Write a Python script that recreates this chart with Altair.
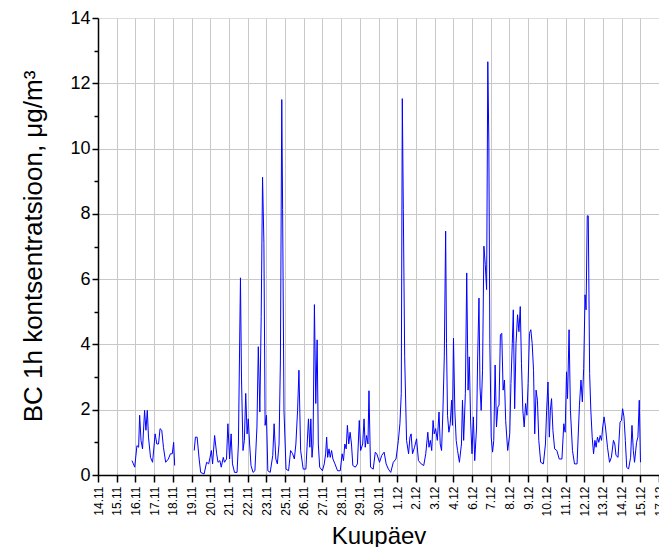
import altair as alt
import pandas as pd

tick_labels = ["14.11", "15.11", "16.11", "17.11", "18.11", "19.11", "20.11", "21.11",
               "22.11", "23.11", "25.11", "26.11", "27.11", "28.11", "29.11", "30.11",
               "1.12", "2.12", "3.12", "4.12", "6.12", "7.12", "8.12", "9.12", "10.12",
               "11.12", "12.12", "13.12", "14.12", "15.12", "17.12"]
tick_step = 1.1  # days between axis ticks

# segment 1: 15.11 - 18.11 (days since 14.11 00:00)
days_a = [2.00, 2.16, 2.29, 2.39, 2.45, 2.53, 2.62, 2.74, 2.82, 2.90, 2.97, 3.09, 3.21,
          3.36, 3.46, 3.56, 3.65, 3.75, 3.85, 3.98, 4.14, 4.26, 4.37, 4.45, 4.51]
bc_a = [0.44, 0.24, 0.90, 0.85, 1.83, 1.06, 0.80, 1.98, 1.37, 1.98, 1.16, 0.54, 0.39,
        1.26, 0.95, 0.95, 1.42, 1.37, 0.85, 0.39, 0.49, 0.65, 0.65, 1.00, 0.29]

# segment 2: 19.11 - 15.12
days_b = [5.66, 5.73, 5.83, 5.95, 6.04, 6.24, 6.39, 6.51, 6.59, 6.67, 6.74, 6.86, 6.98,
          7.06, 7.17, 7.25, 7.37, 7.44, 7.56, 7.64, 7.74, 7.83, 7.91, 8.03, 8.18, 8.26,
          8.38, 8.44, 8.53, 8.61, 8.69, 8.77, 8.84, 8.92, 9.00, 9.12, 9.23, 9.35, 9.43,
          9.52, 9.60, 9.68, 9.76, 9.83, 9.91, 9.99, 10.13, 10.28, 10.36, 10.46, 10.55,
          10.65, 10.73, 10.81, 10.86, 10.94, 11.06, 11.21, 11.33, 11.45, 11.55, 11.64,
          11.74, 11.82, 11.92, 12.07, 12.23, 12.38, 12.46, 12.52, 12.59, 12.65, 12.73,
          12.81, 12.89, 12.96, 13.04, 13.20, 13.31, 13.39, 13.45, 13.51, 13.59, 13.66,
          13.74, 13.82, 13.94, 14.09, 14.25, 14.36, 14.44, 14.52, 14.60, 14.67, 14.75,
          14.83, 14.91, 14.99, 15.14, 15.26, 15.37, 15.45, 15.57, 15.65, 15.72, 15.80,
          15.88, 15.94, 16.03, 16.19, 16.31,
          16.40, 16.56, 16.69, 16.83, 16.95, 17.08, 17.22, 17.37, 17.53, 17.67, 17.76,
          17.84, 17.90, 17.96, 18.04, 18.15, 18.27, 18.35, 18.42, 18.50, 18.62, 18.74,
          18.85, 19.01, 19.16, 19.28, 19.40, 19.47, 19.55, 19.63, 19.71, 19.78, 19.86,
          19.96, 20.06, 20.13, 20.21, 20.29, 20.37, 20.45, 20.50, 20.56, 20.64, 20.72,
          20.80, 20.85, 20.91, 20.99, 21.07, 21.15, 21.26, 21.38, 21.44, 21.51, 21.61,
          21.69, 21.77, 21.84, 21.92, 22.00, 22.08, 22.16, 22.27, 22.33, 22.41, 22.47,
          22.54, 22.62, 22.70, 22.78, 22.86, 22.93, 22.99, 23.05, 23.13, 23.21, 23.28,
          23.36, 23.44, 23.52, 23.59, 23.67, 23.75, 23.83, 23.91, 23.98, 24.10, 24.22,
          24.29, 24.37, 24.43, 24.51, 24.59, 24.68, 24.76, 24.84, 24.91, 24.99, 25.07,
          25.15, 25.23, 25.30, 25.38, 25.46, 25.54, 25.62, 25.69, 25.77, 25.85, 25.93,
          26.04, 26.20, 26.32, 26.39, 26.47, 26.55, 26.61, 26.68, 26.76, 26.86, 26.99,
          27.13, 27.29, 27.40, 27.48, 27.56, 27.62, 27.71, 27.79, 27.91, 28.03, 28.18,
          28.32, 28.41, 28.49, 28.57, 28.65, 28.71, 28.78, 28.84, 28.92, 28.99, 29.07,
          29.15, 29.23, 29.30, 29.38, 29.46, 29.54, 29.62, 29.69, 29.77, 29.85, 29.97,
          30.09, 30.20, 30.32, 30.40, 30.47, 30.59, 30.71, 30.79, 30.86, 30.94, 31.02,
          31.10, 31.21, 31.33, 31.41, 31.49, 31.56, 31.68, 31.76, 31.84, 31.91]
bc_b = [0.75, 1.16, 1.16, 0.49, 0.08, 0.03, 0.39, 0.34, 0.54, 0.75, 0.34, 1.21, 0.65,
        0.39, 0.44, 0.24, 0.54, 0.39, 0.49, 1.57, 0.49, 1.26, 0.34, 0.08, 0.08, 0.95,
        6.04, 3.00, 0.75, 1.06, 2.50, 1.26, 1.72, 0.95, 0.29, 0.08, 0.13, 1.47, 3.93,
        1.93, 4.86, 9.12, 7.10, 1.52, 1.83, 0.13, 0.08, 0.60, 1.57, 0.49, 0.34,
        0.95, 3.52, 11.50, 8.14, 1.98, 0.18, 0.13, 0.75, 0.65, 0.49, 0.95,
        1.98, 3.21, 0.75, 0.18, 0.18, 1.72, 0.85, 1.72, 0.54, 0.95, 5.22,
        2.19, 4.14, 0.95, 0.24, 0.13, 0.34, 0.65, 1.16, 0.54, 0.80, 0.54,
        0.75, 0.49, 0.34, 0.13, 0.13, 0.65, 0.44, 0.95, 0.80, 1.52, 0.95,
        1.31, 0.95, 0.29, 0.24, 0.34, 1.67, 0.75, 0.95, 1.72, 0.85, 1.21,
        0.95, 2.58, 0.24, 0.18, 0.70,
        0.65, 0.39, 0.60, 0.70, 0.34, 0.18, 0.08, 0.39, 0.49, 1.06, 1.57,
        2.50, 11.53, 8.14, 3.62, 1.06, 0.65, 1.16, 1.26, 0.65, 0.85, 1.11,
        0.44, 0.34, 0.29, 0.65, 1.31, 0.85, 1.06, 0.75, 1.67, 1.26, 1.42,
        1.06, 1.93, 0.95, 0.75, 1.98, 3.62, 7.47, 4.03, 1.83, 1.31, 1.57,
        2.29, 1.52, 4.19, 1.98, 1.06, 0.75, 0.39, 0.95, 2.29, 1.06, 2.50,
        6.19, 2.60, 3.62, 1.62, 0.65, 1.78, 0.44, 1.47, 3.52, 5.42, 2.70,
        1.98, 3.21, 7.01, 6.45, 5.68, 12.66, 10.20, 4.03, 1.16, 0.70, 1.06,
        3.37, 1.47, 2.08, 2.14, 4.29, 4.34, 2.60, 2.91, 1.67, 0.75, 1.26,
        2.80, 4.03, 5.06, 2.03, 4.03, 4.91, 4.39, 5.16, 3.42, 1.98, 1.47,
        2.19, 1.83, 2.80, 4.34, 4.45, 4.03, 3.21, 1.26, 2.60, 2.29, 1.06,
        0.39, 0.34, 0.95, 1.98, 2.85, 1.16, 1.98, 2.34, 1.37, 0.80, 0.75,
        0.49, 0.49, 1.57, 1.31, 3.16, 2.34, 4.45, 1.98, 0.75, 0.34, 0.34,
        2.14, 2.91, 2.24, 3.27, 5.52, 5.06, 7.94, 7.94, 3.11, 1.98, 1.16,
        0.65, 1.06, 0.85, 1.16, 1.00, 1.21, 1.06, 1.47, 1.78, 1.47, 0.85,
        0.39, 0.54, 1.06, 0.95, 0.60, 0.54, 1.62, 1.67, 2.03, 1.78, 1.06,
        0.24, 0.18, 0.54, 1.52, 0.75, 0.39, 1.00, 1.16, 2.29, 0.39]

y_major = [0, 2, 4, 6, 8, 10, 12, 14]
y_minor = [1, 3, 5, 7, 9, 11, 13]

df = pd.DataFrame({
    "day": days_a + days_b,
    "bc": bc_a + bc_b,
    "seg": [0] * len(days_a) + [1] * len(days_b),
})

FONT = "Liberation Sans"
tick_values = [round(i * tick_step, 4) for i in range(len(tick_labels))]
label_expr = "[" + ",".join("'%s'" % t for t in tick_labels) + "][round(datum.value / %s)]" % tick_step

x_scale = alt.Scale(domain=[0, tick_values[-1]], nice=False, zero=False)
y_scale = alt.Scale(domain=[0, 14], nice=False)

x_axis = alt.Axis(values=tick_values, labelExpr=label_expr, title="Kuupäev", orient="bottom",
                  labelAngle=270, labelAlign="right", labelBaseline="middle",
                  labelFontSize=12, labelFont=FONT, labelColor="black",
                  labelPadding=4, tickSize=7, tickColor="black", tickWidth=1.5,
                  domainColor="black", domainWidth=1.5,
                  grid=True, gridColor="#c8c8c8", gridWidth=1,
                  titleFont=FONT, titleFontSize=24, titleFontWeight="normal",
                  titleColor="black", titleY=68, titleBaseline="alphabetic",
                  labelOverlap=False, labelFlush=False)

main = alt.Chart(df).mark_line(color="#0000ff", strokeWidth=1).encode(
    x=alt.X("day:Q", scale=x_scale, axis=x_axis),
    y=alt.Y("bc:Q", scale=y_scale,
            axis=alt.Axis(values=y_major, title="BC 1h kontsentratsioon, μg/m³", orient="left",
                          labelFontSize=18, labelFont=FONT, labelColor="black",
                          labelPadding=2, tickSize=6, tickColor="black", tickWidth=1.5,
                          domainColor="black", domainWidth=1.5,
                          grid=True, gridColor="#c8c8c8", gridWidth=1,
                          gridOpacity={"condition": {"test": "datum.value == 14", "value": 0}, "value": 1},
                          titleFont=FONT, titleFontSize=26, titleFontWeight="normal",
                          titleColor="black", titleX=-65, titleY=228,
                          titleBaseline="middle", titleAlign="center",
                          labelFlush=False)),
    detail="seg:N",
)

minor = alt.Chart(df).mark_line(opacity=0).encode(
    x=alt.X("day:Q", scale=x_scale, axis=x_axis),
    y=alt.Y("bc:Q", scale=y_scale,
            axis=alt.Axis(values=y_minor, orient="left", labels=False, title=None,
                          domain=False, grid=False, tickSize=4, tickColor="black",
                          tickWidth=1.5)),
    detail="seg:N",
)

chart = alt.layer(main, minor).resolve_axis(y="independent").properties(
    width=561, height=457,
    autosize=alt.AutoSizeParams(type="none"),
    padding={"left": 90, "top": 10, "right": 0, "bottom": 72},
).configure_view(stroke=None).configure(background="white")

chart.save("out.html", embed_options={"renderer": "svg", "actions": False})
